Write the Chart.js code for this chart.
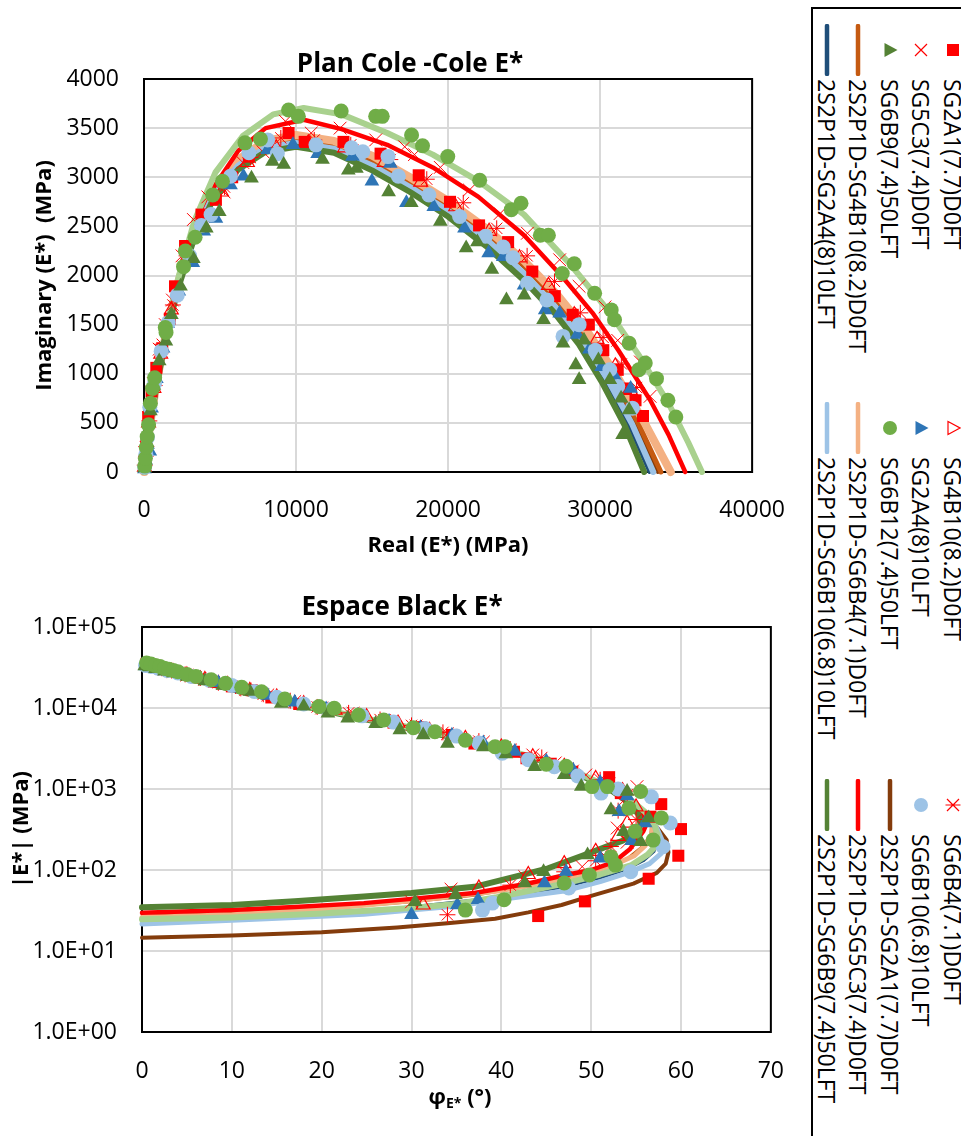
<!DOCTYPE html>
<html>
<head>
<meta charset="utf-8">
<script src="https://cdn.jsdelivr.net/npm/chart.js@4.4.1/dist/chart.umd.min.js"></script>
<style>
body { margin: 0; background: #fff; width: 961px; height: 1136px; overflow: hidden; position: relative; font-family: 'Open Sans', sans-serif; color: #000; }
canvas { position: absolute; left: 0; }
#c1 { top: 0; }
#c2 { top: 580px; }
.ttl { position: absolute; width: 400px; text-align: center; font-weight: bold; font-size: 26px; line-height: 30px; white-space: nowrap; }
#phiTitle { position: absolute; left: 360px; width: 200px; top: 1081px; text-align: center; font-weight: bold; font-size: 22px; line-height: 28px; }
#phiTitle sub { font-size: 14px; vertical-align: -4px; }
#legend { position: absolute; left: 981px; top: 7px; width: 1140px; height: 170px; box-sizing: border-box; border: 2px solid #000; background: #fff; transform-origin: 0 0; transform: rotate(90deg); }
.lm { position: absolute; width: 52px; height: 24px; }
.lt { position: absolute; font-size: 23px; line-height: 32px; white-space: nowrap; }
</style>
</head>
<body>
<canvas id="c1" width="810" height="580"></canvas>
<canvas id="c2" width="810" height="556"></canvas>
<div class="ttl" style="left:210px; top:47px;">Plan Cole -Cole E*</div>
<div class="ttl" style="left:202px; top:590px;">Espace Black E*</div>
<div id="phiTitle">φ<sub>E*</sub> (°)</div>
<div id="legend"></div>
<script>
// series, in the legend order (the last one is not in the legend)
var seriesNames = [
    'SG2A1(7.7)D0FT', 'SG4B10(8.2)D0FT', 'SG6B4(7.1)D0FT',
    'SG5C3(7.4)D0FT', 'SG2A4(8)10LFT', 'SG6B10(6.8)10LFT',
    'SG6B9(7.4)50LFT', 'SG6B12(7.4)50LFT', '2S2P1D-SG2A1(7.7)D0FT',
    '2S2P1D-SG4B10(8.2)D0FT', '2S2P1D-SG6B4(7.1)D0FT', '2S2P1D-SG5C3(7.4)D0FT',
    '2S2P1D-SG2A4(8)10LFT', '2S2P1D-SG6B10(6.8)10LFT', '2S2P1D-SG6B9(7.4)50LFT',
    '2S2P1D-SG6B12(7.4)50LFT'
];
var seriesKinds = ['rect', 'triangleOpen', 'star', 'crossRot', 'triangle', 'circle', 'triangle', 'circle',
    'line', 'line', 'line', 'line', 'line', 'line', 'line', 'line'];
var seriesColors = ['#FF0000', '#FF0000', '#FF0000', '#FF0000', '#2E75B6', '#9DC3E6', '#548235', '#70AD47',
    '#843C0C', '#C55A11', '#F4B183', '#FF0000', '#1F4E79', '#9DC3E6', '#548235', '#A9D18E'];
var ccLineWidths = [0, 0, 0, 0, 0, 0, 0, 0, 4, 5, 8, 4.5, 4, 6, 6, 6];
var bkLineWidths = [0, 0, 0, 0, 0, 0, 0, 0, 4, 2, 5, 4.5, 3, 5, 6, 6];

// tick labels
var ccXTicks = ['0', '10000', '20000', '30000', '40000'];
var ccYTicks = ['0', '500', '1000', '1500', '2000', '2500', '3000', '3500', '4000'];
var bkXTicks = ['0', '10', '20', '30', '40', '50', '60', '70'];
var bkYValues = [1, 10, 100, 1000, 10000, 100000];
var bkYTicks = ['1.0E+00', '1.0E+01', '1.0E+02', '1.0E+03', '1.0E+04', '1.0E+05'];

// Plan Cole-Cole : [Real (MPa), Imaginary (MPa)]
var cc_SG2A1 = [[60,120],[150,300],[275,560],[500,820],[810,1060],[1200,1260],[1700,1560],[2040,1890],[2700,2300],[3780,2620],[4730,2770],[5800,3000],[6900,3210],[9510,3450],[10570,3360],[13120,3360],[15560,3240],[18070,3020],[20130,2750],[22040,2510],[23950,2340],[25540,2040],[27020,1790],[28200,1600],[29260,1500],[30210,1240],[31160,1040],[31700,850],[32330,730],[32820,570]];
var cc_SG4B10 = [[30,50],[120,200],[300,500],[650,850],[1100,1200],[1800,1650],[2700,2150],[3800,2550],[5100,2850],[6800,3150],[8700,3300],[10800,3350],[13200,3300],[15800,3150],[18200,2950],[20500,2700],[22700,2450],[24700,2180],[26600,1900],[28300,1600],[29800,1350],[31000,1080],[32000,830]];
var cc_SG6B4 = [[50,70],[150,260],[350,520],[700,880],[1200,1300],[1900,1700],[2800,2200],[3900,2600],[5300,2900],[7000,3200],[9000,3400],[11200,3380],[13600,3330],[16200,3180],[18600,2980],[21000,2740],[23200,2480],[25200,2200],[27000,1940],[28700,1620],[30200,1370],[31400,1100],[32400,860]];
var cc_SG5C3 = [[40,80],[140,250],[300,550],[620,900],[1000,1250],[1400,1500],[1870,1750],[2500,2200],[3250,2570],[4200,2800],[5270,2850],[6500,3150],[7820,3260],[9300,3570],[11000,3450],[12900,3500],[15240,3380],[17150,3310],[17790,3230],[19490,3100],[21400,2870],[23420,2630],[25220,2430],[27340,2160],[28620,1890],[30320,1680],[31160,1340],[32650,1120],[33290,770]];
var cc_SG2A4 = [[30,30],[100,120],[230,280],[380,210],[500,650],[810,950],[1250,1260],[1550,1510],[2290,1840],[3210,2130],[3930,2450],[4730,2580],[5690,2920],[6540,3010],[8130,3280],[9800,3330],[11420,3240],[13710,3210],[14990,2960],[16200,3140],[17260,2740],[19060,2700],[21080,2480],[22670,2230],[23630,2190],[25000,1900],[26390,1650],[27340,1615],[28500,1400],[29300,1250],[30100,1070],[31060,950],[32010,850]];
var cc_SG6B10 = [[40,50],[120,180],[230,350],[380,660],[700,900],[1130,1230],[1600,1520],[2190,1800],[3000,2200],[3780,2510],[4410,2620],[5690,3010],[6900,3250],[8130,3380],[8770,3240],[11310,3330],[13650,3300],[14390,3260],[16050,3210],[16730,3010],[18740,2820],[20760,2600],[22460,2400],[23630,2290],[24270,2180],[25220,1920],[26500,1750],[27560,1380],[28620,1500],[29680,1240],[30640,1040],[31160,870],[32120,650]];
var cc_SG6B9 = [[40,40],[90,120],[200,300],[420,620],[650,880],[1000,1130],[1440,1330],[1800,1600],[2400,1890],[3250,2170],[4100,2480],[4950,2650],[7070,2990],[8450,3160],[9190,3130],[11740,3180],[13440,3070],[13970,3090],[16090,2850],[17580,2740],[19490,2550],[21190,2280],[21930,2340],[22880,2060],[23840,1750],[25010,1800],[26280,1550],[27560,1310],[28400,1090],[28620,940],[28940,1340],[29890,1140],[30640,940],[31380,750],[31910,630],[31480,380]];
var cc_SG6B12 = [[50,60],[90,140],[150,250],[210,360],[300,480],[420,700],[560,850],[700,960],[1400,1470],[1450,1420],[2600,2090],[2720,2250],[3360,2390],[4520,2820],[5160,2960],[6640,3350],[7660,3390],[9510,3685],[10150,3620],[12970,3675],[15240,3620],[15670,3620],[17600,3430],[18320,3320],[19980,3210],[22080,2970],[24160,2670],[24800,2735],[26070,2410],[26600,2410],[27510,2020],[28300,2120],[29640,1820],[30730,1650],[30950,1550],[31910,1310],[32550,1040],[32970,1110],[33710,950],[34460,730],[34980,560]];
var cc_M_SG2A1 = [[0,0],[40,60],[150,200],[400,480],[800,870],[1400,1350],[2200,1890],[3200,2380],[4500,2820],[6200,3150],[8000,3330],[10000,3390],[12500,3330],[15000,3170],[17500,2950],[20000,2710],[22500,2430],[25000,2090],[27000,1770],[29000,1380],[30700,970],[32300,500],[33800,0]];
var cc_M_SG4B10 = [[0,0],[40,60],[150,200],[400,480],[800,880],[1400,1360],[2200,1900],[3200,2390],[4500,2830],[6200,3160],[8000,3340],[10000,3400],[12500,3340],[15000,3180],[17500,2960],[20000,2720],[22500,2440],[25000,2100],[27000,1780],[29000,1400],[30800,980],[32500,500],[34000,0]];
var cc_M_SG6B4 = [[0,0],[40,60],[150,200],[400,480],[800,880],[1400,1370],[2200,1910],[3200,2400],[4500,2850],[6200,3180],[8000,3370],[10000,3430],[12500,3370],[15000,3220],[17500,3000],[20000,2760],[22500,2480],[25000,2150],[27200,1800],[29200,1420],[31100,980],[33000,480],[34650,0]];
var cc_M_SG5C3 = [[0,0],[30,40],[100,120],[250,300],[500,600],[900,1000],[1500,1500],[2300,1980],[3300,2480],[4600,2900],[6200,3270],[8000,3500],[10500,3585],[13000,3490],[16000,3330],[19000,3100],[22000,2800],[25000,2410],[27500,1990],[29500,1620],[31200,1240],[33300,730],[34500,380],[35600,0]];
var cc_M_SG2A4 = [[0,0],[40,60],[150,200],[400,480],[800,870],[1400,1340],[2200,1870],[3200,2350],[4500,2780],[6200,3100],[8000,3280],[10000,3330],[12500,3270],[15000,3100],[17500,2880],[20000,2630],[22500,2340],[25000,1990],[27000,1660],[28700,1320],[30300,930],[31900,480],[33250,0]];
var cc_M_SG6B10 = [[0,0],[40,60],[150,200],[400,480],[800,870],[1400,1350],[2200,1880],[3200,2370],[4500,2800],[6200,3120],[8000,3300],[10000,3350],[12500,3290],[15000,3120],[17500,2900],[20000,2660],[22500,2370],[25000,2020],[27000,1690],[28900,1330],[30500,940],[32100,490],[33500,0]];
var cc_M_SG6B9 = [[0,0],[40,60],[150,200],[400,480],[800,860],[1400,1330],[2200,1850],[3200,2330],[4500,2760],[6200,3080],[8000,3260],[10000,3310],[12500,3250],[15000,3070],[17500,2850],[20000,2600],[22500,2300],[25000,1950],[27000,1620],[28600,1300],[30100,920],[31600,480],[32900,0]];
var cc_M_SG6B12 = [[0,0],[30,40],[100,120],[250,300],[500,600],[900,1000],[1500,1500],[2300,2000],[3300,2550],[4700,3050],[6500,3420],[8500,3640],[10500,3705],[13000,3640],[16000,3450],[19000,3230],[22000,2960],[25000,2620],[28000,2120],[30500,1650],[32500,1200],[34500,700],[35800,300],[36700,0]];

// Espace Black : [phase angle (deg), |E*| (MPa)]
var bk_SG2A1 = [[0.5,35000],[1.2,33000],[2,31000],[3,29000],[4.5,26500],[6,24000],[8,21000],[10,18500],[12.2,16600],[14.4,13500],[17.5,11200],[21,9500],[24.5,8000],[28,6600],[31,5800],[34.5,4650],[37,3640],[41.4,2880],[42.8,2400],[45.5,2050],[47.9,1630],[52,1400],[53.3,890],[56.6,455],[57.8,650],[60,320],[59.7,150],[56.4,78],[49.3,41],[44.1,27]];
var bk_SG4B10 = [[0.5,34000],[1.2,32500],[2.2,30500],[3.5,28000],[5,25500],[7,22500],[9.5,19500],[12,16500],[15,13700],[18,11300],[21.5,9400],[25,7800],[28.5,6500],[32,5300],[36,4200],[40,3300],[43.5,2500],[47,1900],[50.5,1350],[53.5,950],[55,600],[54,380],[53,260],[50.5,170],[47,120],[43,88],[37.5,60],[31.3,37]];
var bk_SG6B4 = [[0.6,34500],[1.3,33000],[2.2,31000],[3.3,29000],[4.8,26000],[6.5,23500],[8.5,20500],[11,17500],[13.5,14800],[16.5,12300],[19.5,10300],[23,8700],[26.5,7200],[30,6100],[33.5,5000],[37.5,3900],[41,3100],[44.5,2450],[48,1700],[51,1300],[54,850],[53,540],[55,420],[52.2,195],[50.5,130],[47,95],[41,65],[34,28]];
var bk_SG5C3 = [[0.8,34000],[1.5,32500],[2.5,30000],[3.5,28000],[5,25500],[7,22500],[9,20000],[11.5,17000],[14,14500],[17,12000],[20,10000],[23.5,8600],[27,7000],[30.5,6000],[34,4800],[38,3800],[41,3000],[43.5,2630],[46,2100],[49.4,1490],[52,1150],[55.1,1070],[53.5,700],[52.9,330],[54,220],[51.5,150],[49,110],[42.6,83],[34.4,58],[30,40.5]];
var bk_SG2A4 = [[0.4,33000],[1,32000],[2,30000],[3,28500],[4.5,26000],[6.5,23000],[8.5,20500],[11,17500],[14,14300],[17,11800],[20.5,9700],[24,8100],[27.5,6800],[31,5700],[34.5,4600],[38,3700],[41.5,2900],[45,2200],[48,1700],[51,1200],[54,820],[53.1,525],[56,380],[54.5,230],[51,140],[47.2,95],[44.8,69],[37.4,43],[35.1,37],[30,28]];
var bk_SG6B10 = [[0.4,33500],[1,32500],[1.8,31000],[2.8,29000],[4,27000],[5.5,24500],[7.5,22000],[10,19000],[12.5,16000],[15,13600],[18,11200],[21,9600],[24.5,8000],[28,6700],[31.5,5600],[35,4500],[37.5,3700],[40.1,2760],[43,2300],[45.9,1880],[48.5,1450],[51.1,890],[53,1000],[56.7,800],[58.8,380],[58,194],[54.4,95],[47.5,60],[39,39],[37.9,32]];
var bk_SG6B9 = [[0.3,33000],[0.8,32000],[1.5,30500],[2.5,28500],[3.5,27000],[5,24500],[7,21500],[9,19000],[12,16000],[15.5,11400],[18,10500],[20.7,8600],[22.9,7450],[26,6400],[28.7,5340],[31.3,4650],[34,3640],[38,3300],[40.5,2700],[43.7,1880],[47,1500],[48.9,1070],[52.2,550],[54,930],[53.6,296],[55.5,224],[56.4,437],[49.6,153],[44.7,95],[42.6,69],[34.9,49],[30.4,40.6]];
var bk_SG6B12 = [[0.5,36000],[1,35000],[1.5,33500],[2,32500],[2.5,31000],[3,30000],[3.5,29000],[4,28000],[5,26000],[6,24500],[7.7,22300],[9.3,20200],[11.1,18000],[13.3,15900],[15.9,12900],[19.7,10400],[21.4,9900],[24.1,8200],[26.9,7100],[30.2,5700],[32.6,5100],[36,4000],[39.3,3330],[40.4,3330],[45,2020],[47.2,1910],[50.1,1070],[51.8,1070],[55.5,930],[54.2,580],[57.8,440],[54.9,300],[56.9,234],[52.2,146],[52.7,115],[49.8,87],[47,69],[40.3,43],[36,32]];
var bk_M_SG2A1 = [[0.3,33800],[1,31500],[2.5,28200],[5,23700],[8,19450],[12,15150],[16,12050],[20,9480],[25,7250],[30,5570],[35,4280],[40,3130],[45,2170],[49,1470],[52,1020],[54.4,680],[56.2,450],[57.3,340],[58.4,235],[58.6,165],[58.3,120],[57.3,92],[54.7,68],[50,48],[46.7,37],[43,30],[39.3,25],[34,22],[28.4,19.5],[20,17],[10,15.5],[0,14.6]];
var bk_M_SG4B10 = [[0.3,34000],[1,31700],[2.5,28300],[5,23800],[8,19500],[12,15200],[16,12100],[20,9500],[25,7250],[30,5580],[35,4280],[40,3130],[45,2170],[49,1460],[52,1010],[54.5,700],[56.2,480],[56.8,360],[56.5,260],[55.5,190],[54,140],[51,105],[47,78],[43,62],[37,48],[30,40],[24.7,36],[17,32],[10,29.5],[0,27.3]];
var bk_M_SG6B4 = [[0.3,34650],[1,32200],[2.5,28600],[5,23900],[8,19600],[12,15250],[16,12150],[20,9520],[25,7280],[30,5590],[35,4290],[40,3140],[45,2175],[49,1470],[52,1020],[54.5,710],[56,490],[56.8,360],[56.7,270],[56,200],[54.8,150],[52.5,115],[49,88],[45,70],[40,56],[33,45],[25,37],[17,31],[10,28],[0,26]];
var bk_M_SG5C3 = [[0.3,35600],[1,32500],[2.5,28800],[5,24000],[8,19700],[12,15300],[16,12200],[20,9550],[25,7300],[30,5600],[35,4300],[40,3150],[45,2180],[49,1470],[52,1020],[54.3,700],[55.7,490],[56.2,380],[55.8,300],[55,230],[54.3,180],[52.5,125],[50,100],[47,86],[43,68],[37,52],[30,44],[24.7,39],[17,35],[10,32],[0,29.6]];
var bk_M_SG2A4 = [[0.3,33250],[1,31100],[2.5,27900],[5,23500],[8,19350],[12,15050],[16,12000],[20,9420],[25,7220],[30,5550],[35,4260],[40,3110],[45,2160],[49,1470],[52,1020],[54.5,710],[56.1,490],[57,340],[57.4,240],[57,170],[55.8,130],[54,103],[51,80],[47,62],[43,52],[39,45],[33,38],[25,31],[17,27.5],[10,25.5],[0,23]];
var bk_M_SG6B10 = [[0.3,33500],[1,31300],[2.5,28000],[5,23600],[8,19400],[12,15100],[16,12050],[20,9450],[25,7250],[30,5570],[35,4270],[40,3120],[45,2170],[49,1480],[52,1030],[54.5,720],[56.2,500],[57.3,330],[58,220],[57.8,160],[56.5,120],[54.4,95],[51,72],[47,55],[43,48],[39.7,43],[35,36],[30,32],[24.7,28.5],[17,26],[10,24],[0,21.5]];
var bk_M_SG6B9 = [[0.3,32900],[1,31000],[2.5,27800],[5,23500],[8,19300],[12,15000],[16,12000],[20,9400],[25,7200],[30,5550],[35,4250],[40,3100],[45,2150],[49,1450],[52,1000],[54.2,680],[55.3,480],[55.5,360],[54.8,280],[53.5,230],[52,200],[49,150],[45.2,105],[41,80],[37,62],[30,52],[24.7,47],[17,41],[10,37],[0,34.6]];
var bk_M_SG6B12 = [[0.3,36500],[1,33500],[2.5,29500],[5,24500],[8,20000],[12,15500],[16,12300],[20,9700],[25,7400],[30,5700],[35,4400],[40,3200],[45,2200],[49,1500],[52,1050],[54.5,720],[56,520],[57,370],[57.4,270],[57.2,200],[56.3,155],[54.5,115],[51,88],[47,68],[43,55],[39.5,46],[35,38],[30,34],[20,29],[10,26],[0,24.6]];

var ccData = [cc_SG2A1, cc_SG4B10, cc_SG6B4, cc_SG5C3, cc_SG2A4, cc_SG6B10, cc_SG6B9, cc_SG6B12,
    cc_M_SG2A1, cc_M_SG4B10, cc_M_SG6B4, cc_M_SG5C3, cc_M_SG2A4, cc_M_SG6B10, cc_M_SG6B9, cc_M_SG6B12];
var bkData = [bk_SG2A1, bk_SG4B10, bk_SG6B4, bk_SG5C3, bk_SG2A4, bk_SG6B10, bk_SG6B9, bk_SG6B12,
    bk_M_SG2A1, bk_M_SG4B10, bk_M_SG6B4, bk_M_SG5C3, bk_M_SG2A4, bk_M_SG6B10, bk_M_SG6B9, bk_M_SG6B12];

Chart.defaults.font.family = "'Open Sans', sans-serif";
Chart.defaults.color = '#000';

// marker look for each kind of series
var markerStyles = {
    rect: {pointStyle: 'rect', radius: 8.5, fill: true, border: 0},
    triangleOpen: {pointStyle: 'triangle', radius: 8, fill: false, border: 1.2},
    star: {pointStyle: 'star', radius: 8, fill: false, border: 1},
    crossRot: {pointStyle: 'crossRot', radius: 9, fill: false, border: 1},
    triangle: {pointStyle: 'triangle', radius: 8.5, fill: true, border: 0},
    circle: {pointStyle: 'circle', radius: 7.5, fill: true, border: 0}
};

function makeDatasets(dataList, widths) {
    return seriesNames.map(function (name, k) {
        var pts = dataList[k].map(function (p) { return {x: p[0], y: p[1]}; });
        var col = seriesColors[k];
        if (seriesKinds[k] === 'line') {
            return {
                label: name, data: pts, showLine: true, borderColor: col, backgroundColor: col,
                borderWidth: widths[k], pointRadius: 0, pointHoverRadius: 0, tension: 0,
                borderJoinStyle: 'round', borderCapStyle: 'round', clip: false, order: 100 - k
            };
        }
        var st = markerStyles[seriesKinds[k]];
        return {
            label: name, data: pts, showLine: false, pointStyle: st.pointStyle, pointRadius: st.radius,
            pointBackgroundColor: st.fill ? col : 'rgba(255,255,255,0)', pointBorderColor: col,
            pointBorderWidth: st.border, clip: false, order: 10 - k
        };
    });
}

// black frame round the plot area
var plotBorder = {
    id: 'plotBorder',
    beforeDatasetsDraw: function (chart) {
        var a = chart.chartArea, ctx = chart.ctx;
        ctx.save();
        ctx.strokeStyle = '#000';
        ctx.lineWidth = 2;
        ctx.strokeRect(a.left, a.top, a.right - a.left, a.bottom - a.top);
        ctx.restore();
    }
};

var tickFont = {size: 23};
var axisTitleFont = {size: 22, weight: 'bold'};
var gridStyle = {color: '#d9d9d9', lineWidth: 2, drawTicks: false};

new Chart(document.getElementById('c1'), {
    type: 'scatter',
    data: {datasets: makeDatasets(ccData, ccLineWidths)},
    options: {
        responsive: false, animation: false, events: [],
        layout: {padding: {top: 79, right: 38, left: 0, bottom: 0}},
        plugins: {legend: {display: false}, tooltip: {enabled: false}},
        scales: {
            x: {
                type: 'linear', min: 0, max: 40000,
                ticks: {stepSize: 10000, font: tickFont, padding: 25, maxRotation: 0, autoSkip: false,
                    callback: function (v, i) { return ccXTicks[i]; }},
                grid: gridStyle, border: {display: false},
                title: {display: true, text: 'Real (E*) (MPa)', font: axisTitleFont, padding: {top: 0, bottom: 21}},
                afterFit: function (s) { s.height = 108; }
            },
            y: {
                type: 'linear', min: 0, max: 4000,
                ticks: {stepSize: 500, font: tickFont, padding: 25, autoSkip: false,
                    callback: function (v, i) { return ccYTicks[i]; }},
                grid: gridStyle, border: {display: false},
                title: {display: true, text: 'Imaginary (E*)  (MPa)', font: axisTitleFont, padding: {top: 32, bottom: 0}},
                afterFit: function (s) { s.width = 144; }
            }
        }
    },
    plugins: [plotBorder]
});

new Chart(document.getElementById('c2'), {
    type: 'scatter',
    data: {datasets: makeDatasets(bkData, bkLineWidths)},
    options: {
        responsive: false, animation: false, events: [],
        layout: {padding: {top: 47, right: 32, left: 0, bottom: 0}},
        plugins: {legend: {display: false}, tooltip: {enabled: false}},
        scales: {
            x: {
                type: 'linear', min: 0, max: 70,
                ticks: {stepSize: 10, font: tickFont, padding: 26, maxRotation: 0, autoSkip: false,
                    callback: function (v, i) { return bkXTicks[i]; }},
                grid: gridStyle, border: {display: false},
                afterFit: function (s) { s.height = 104; }
            },
            y: {
                type: 'logarithmic', min: 1, max: 100000,
                afterBuildTicks: function (s) {
                    s.ticks = bkYValues.map(function (v) { return {value: v, major: true}; });
                },
                ticks: {font: tickFont, padding: 25, autoSkip: false,
                    callback: function (v, i) { return bkYTicks[i]; }},
                grid: gridStyle, border: {display: false},
                title: {display: true, text: '|E*| (MPa)', font: axisTitleFont, padding: {top: 9, bottom: 0}},
                afterFit: function (s) { s.width = 142; }
            }
        }
    },
    plugins: [plotBorder]
});

// legend, drawn unrotated then turned a quarter turn
function markerSvg(kind, color) {
    var s;
    if (kind === 'line') s = '<line x1="2" y1="12" x2="50" y2="12" stroke="' + color + '" stroke-width="4.5" stroke-linecap="round"/>';
    else if (kind === 'rect') s = '<rect x="20" y="6" width="12" height="12" fill="' + color + '"/>';
    else if (kind === 'triangle') s = '<polygon points="26,4.5 33,17.5 19,17.5" fill="' + color + '"/>';
    else if (kind === 'triangleOpen') s = '<polygon points="26,5 32.5,17 19.5,17" fill="none" stroke="' + color + '" stroke-width="1.2"/>';
    else if (kind === 'circle') s = '<circle cx="26" cy="12" r="7" fill="' + color + '"/>';
    else if (kind === 'crossRot') s = '<path d="M20,6 L32,18 M32,6 L20,18" stroke="' + color + '" stroke-width="1.2"/>';
    else s = '<path d="M20,6 L32,18 M32,6 L20,18 M26,4.5 L26,19.5" stroke="' + color + '" stroke-width="1.2"/>';
    return '<svg width="52" height="24">' + s + '</svg>';
}

var legendBox = document.getElementById('legend');
var colCenters = [43, 421, 798];
for (var k = 0; k < 15; k++) {
    var row = Math.floor(k / 3), col = k % 3;
    var cx = colCenters[col] - 2, cy = 28 + row * 31.5 - 2;
    var m = document.createElement('div');
    m.className = 'lm';
    m.style.left = (cx - 26) + 'px';
    m.style.top = (cy - 12) + 'px';
    m.innerHTML = markerSvg(seriesKinds[k], seriesColors[k]);
    legendBox.appendChild(m);
    var t = document.createElement('div');
    t.className = 'lt';
    t.style.left = (cx + 29) + 'px';
    t.style.top = (cy - 16) + 'px';
    t.textContent = seriesNames[k];
    legendBox.appendChild(t);
}
</script>
</body>
</html>
